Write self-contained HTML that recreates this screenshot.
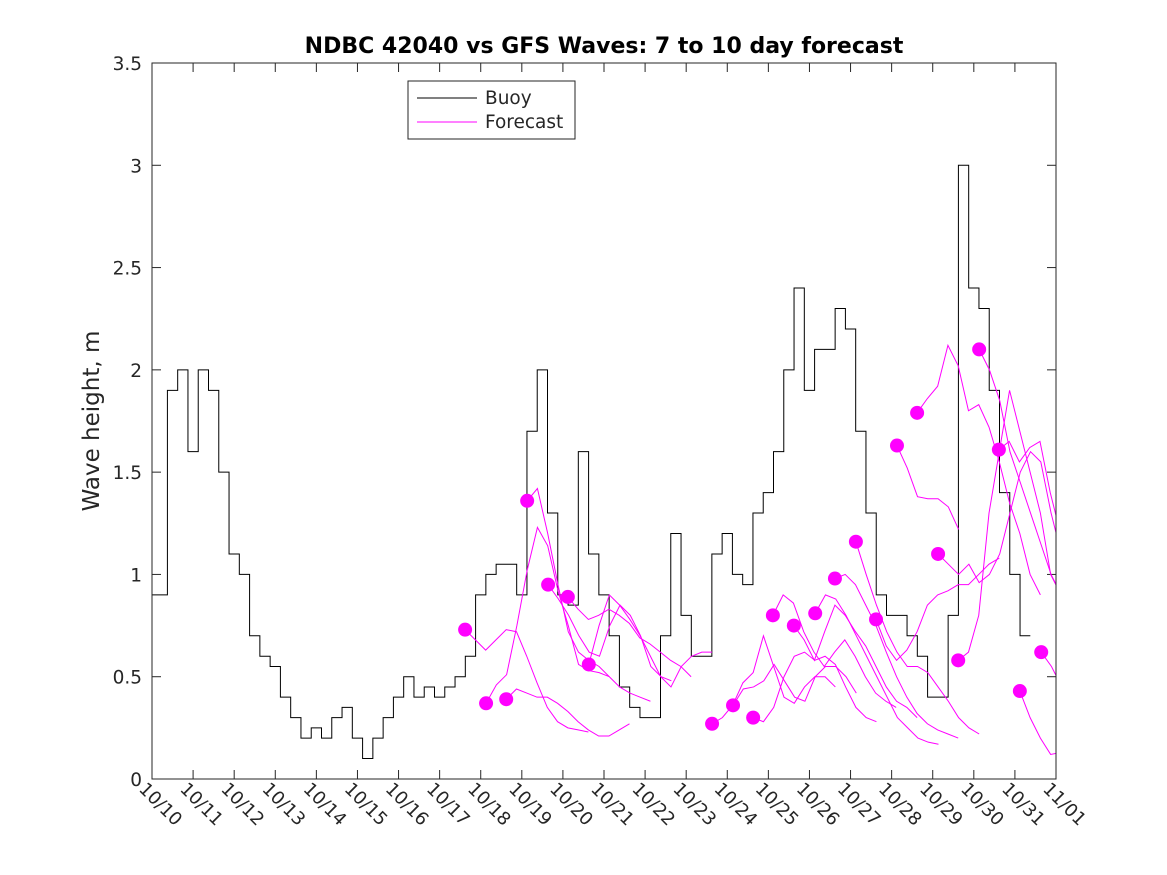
<!DOCTYPE html>
<html><head><meta charset="utf-8"><style>
body{margin:0;background:#fff;}
svg{display:block;font-family:"DejaVu Sans","Liberation Sans",sans-serif;}
</style></head><body>
<svg id="chart" width="1167" height="875">
<rect width="1167" height="875" fill="#fff"/>
<defs><clipPath id="pc"><rect x="152" y="63" width="904" height="716"/></clipPath></defs>
<text x="604" y="53" text-anchor="middle" font-size="22" font-weight="bold">NDBC 42040 vs GFS Waves: 7 to 10 day forecast</text>
<text transform="translate(99,421) rotate(-90)" text-anchor="middle" font-size="23" fill="#262626">Wave height, m</text>
<g id="axes"></g>
<g id="buoy" clip-path="url(#pc)"></g>
<g id="fc" clip-path="url(#pc)"></g>
<rect x="152" y="63" width="904" height="716" fill="none" stroke="#262626" stroke-width="1"/>
<g>
<rect x="408" y="81" width="167" height="58" fill="#fff" stroke="#262626"/>
<line x1="417" y1="98" x2="477" y2="98" stroke="#000"/>
<text x="485" y="104" font-size="18.5" fill="#262626">Buoy</text>
<line x1="417" y1="122" x2="477" y2="122" stroke="#f0f"/>
<text x="485" y="128" font-size="18.5" fill="#262626">Forecast</text>
</g>
</svg>
<script>
const xTickLabels=["10/10","10/11","10/12","10/13","10/14","10/15","10/16","10/17","10/18","10/19","10/20","10/21","10/22","10/23","10/24","10/25","10/26","10/27","10/28","10/29","10/30","10/31","11/01"];
const yTicks=[0,0.5,1,1.5,2,2.5,3,3.5];
const yTickLabels=["0","0.5","1","1.5","2","2.5","3","3.5"];
const buoyStep=0.25;
const buoyValues=[0.9,0.9,1.9,2.0,1.6,2.0,1.9,1.5,1.1,1.0,0.7,0.6,0.55,0.4,0.3,0.2,0.25,0.2,0.3,0.35,0.2,0.1,0.2,0.3,0.4,0.5,0.4,0.45,0.4,0.45,0.5,0.6,0.9,1.0,1.05,1.05,0.9,1.7,2.0,1.3,0.9,0.85,1.6,1.1,0.9,0.7,0.45,0.35,0.3,0.3,0.7,1.2,0.8,0.6,0.6,1.1,1.2,1.0,0.95,1.3,1.4,1.6,2.0,2.4,1.9,2.1,2.1,2.3,2.2,1.7,1.3,0.9,0.8,0.8,0.7,0.6,0.4,0.4,0.8,3.0,2.4,2.3,1.9,1.4,1.0,0.7];
const fcStarts=[7.62,8.13,8.62,9.13,9.64,10.12,10.63,13.63,14.14,14.63,15.11,15.62,16.14,16.62,17.13,17.62,18.13,18.62,19.13,19.62,20.13,20.61,21.12,21.64];
const fc1=[0.73,0.68,0.63,0.68,0.73,0.72,0.60,0.47,0.35,0.28,0.25,0.24,0.23];
const fc2=[0.37,0.46,0.51,0.75,1.02,1.23,1.14,0.92,0.75,0.56,0.53,0.52,0.50];
const fc3=[0.39,0.44,0.42,0.40,0.40,0.37,0.33,0.28,0.24,0.21,0.21,0.24,0.27];
const fc4=[1.36,1.42,1.20,0.95,0.72,0.62,0.58,0.55,0.50,0.45,0.42,0.40,0.38];
const fc5=[0.95,0.88,0.80,0.70,0.62,0.60,0.75,0.85,0.80,0.70,0.55,0.50,0.48];
const fc6=[0.89,0.83,0.78,0.80,0.83,0.80,0.76,0.69,0.66,0.62,0.58,0.55,0.50];
const fc7=[0.56,0.75,0.90,0.85,0.78,0.70,0.60,0.50,0.45,0.55,0.60,0.62,0.62];
const fc8=[0.27,0.30,0.36,0.47,0.52,0.70,0.55,0.40,0.37,0.45,0.50,0.50,0.45];
const fc9=[0.36,0.44,0.45,0.48,0.56,0.48,0.40,0.38,0.50,0.55,0.55,0.50,0.42];
const fc10=[0.30,0.28,0.35,0.50,0.60,0.62,0.58,0.60,0.56,0.45,0.35,0.30,0.28];
const fc11=[0.80,0.90,0.86,0.72,0.62,0.55,0.62,0.68,0.60,0.50,0.42,0.38,0.35];
const fc12=[0.75,0.68,0.58,0.72,0.85,0.80,0.72,0.65,0.55,0.45,0.38,0.35,0.30];
const fc13=[0.81,0.90,0.88,0.80,0.70,0.60,0.50,0.40,0.30,0.25,0.20,0.18,0.17];
const fc14=[0.98,1.00,0.95,0.85,0.75,0.62,0.50,0.40,0.32,0.27,0.24,0.22,0.20];
const fc15=[1.16,1.00,0.85,0.72,0.62,0.55,0.55,0.52,0.45,0.38,0.30,0.25,0.22];
const fc16=[0.78,0.65,0.58,0.63,0.72,0.85,0.90,0.92,0.95,0.95,1.00,1.05,1.08];
const fc17=[1.63,1.52,1.38,1.37,1.37,1.33,1.22];
const fc18=[1.79,1.86,1.92,2.12,2.02,1.80,1.83,1.72,1.55,1.35,1.20,1.00,0.90];
const fc19=[1.10,1.05,1.00,1.05,0.96,1.00,1.10,1.30,1.50,1.60,1.55,1.30,1.10];
const fc20=[0.58,0.62,0.80,1.30,1.60,1.90,1.70,1.50,1.30,1.00,0.90,0.70,0.60];
const fc21=[2.10,2.00,1.85,1.60,1.45,1.30,1.15,1.00,0.90,0.85,0.70,0.50,0.40];
const fc22=[1.61,1.65,1.55,1.62,1.65,1.40,1.20,1.00,0.85,0.70];
const fc23=[0.43,0.30,0.20,0.12,0.13];
const fc24=[0.62,0.55,0.45];
const fcValues=[fc1,fc2,fc3,fc4,fc5,fc6,fc7,fc8,fc9,fc10,fc11,fc12,fc13,fc14,fc15,fc16,fc17,fc18,fc19,fc20,fc21,fc22,fc23,fc24];
const fcStep=0.25;

const NS="http://www.w3.org/2000/svg";
const X0=152,X1=1056,Y0=779,Y1=63;
function xs(d){return X0+d*(X1-X0)/22;}
function ys(v){return Y0-v*(Y0-Y1)/3.5;}
function mk(t,a,p){const e=document.createElementNS(NS,t);for(const k in a)e.setAttribute(k,a[k]);p.appendChild(e);return e;}
const axes=document.getElementById('axes');
yTicks.forEach((v,i)=>{
  const t=mk('line',{x1:X0,x2:X0+9,y1:ys(v),y2:ys(v),stroke:'#262626'},axes);
  
  
  const t2=mk('line',{x1:X1-9,x2:X1,y1:ys(v),y2:ys(v),stroke:'#262626'},axes);
  
  
  const l=mk('text',{x:X0-10,y:ys(v)+7,'text-anchor':'end','font-size':18.5,fill:'#262626'},axes);
  l.textContent=yTickLabels[i];
  
  
});
xTickLabels.forEach((s,i)=>{
  const x=xs(i);
  const t=mk('line',{x1:x,x2:x,y1:Y0,y2:Y0-9,stroke:'#262626'},axes);
  
  
  const t2=mk('line',{x1:x,x2:x,y1:Y1,y2:Y1+9,stroke:'#262626'},axes);
  
  
  const l=mk('text',{transform:`translate(${x-14},${Y0+11}) rotate(45)`,'font-size':18,fill:'#262626'},axes);
  l.textContent=s;
  
  
});
let d='';
buoyValues.forEach((v,i)=>{
  const x=xs(i*buoyStep),y=ys(v);
  if(i===0)d+=`M${x},${y}`;else d+=`V${y}H${x}`;
  d+=`H${xs(i*buoyStep+buoyStep*0.5)}`;
});
const bp=mk('path',{d:d,fill:'none',stroke:'#000','stroke-width':1},document.getElementById('buoy'));


const fg=document.getElementById('fc');
fcValues.forEach((arr,k)=>{
  const pts=arr.map((v,i)=>`${xs(fcStarts[k]+i*fcStep)},${ys(v)}`).join(' ');
  const pl=mk('polyline',{points:pts,fill:'none',stroke:'#f0f','stroke-width':1},fg);
  
  
});
fcValues.forEach((arr,k)=>{
  const c=mk('circle',{cx:xs(fcStarts[k]),cy:ys(arr[0]),r:7,fill:'#f0f'},fg);
  
  
});
</script>
</body></html>
